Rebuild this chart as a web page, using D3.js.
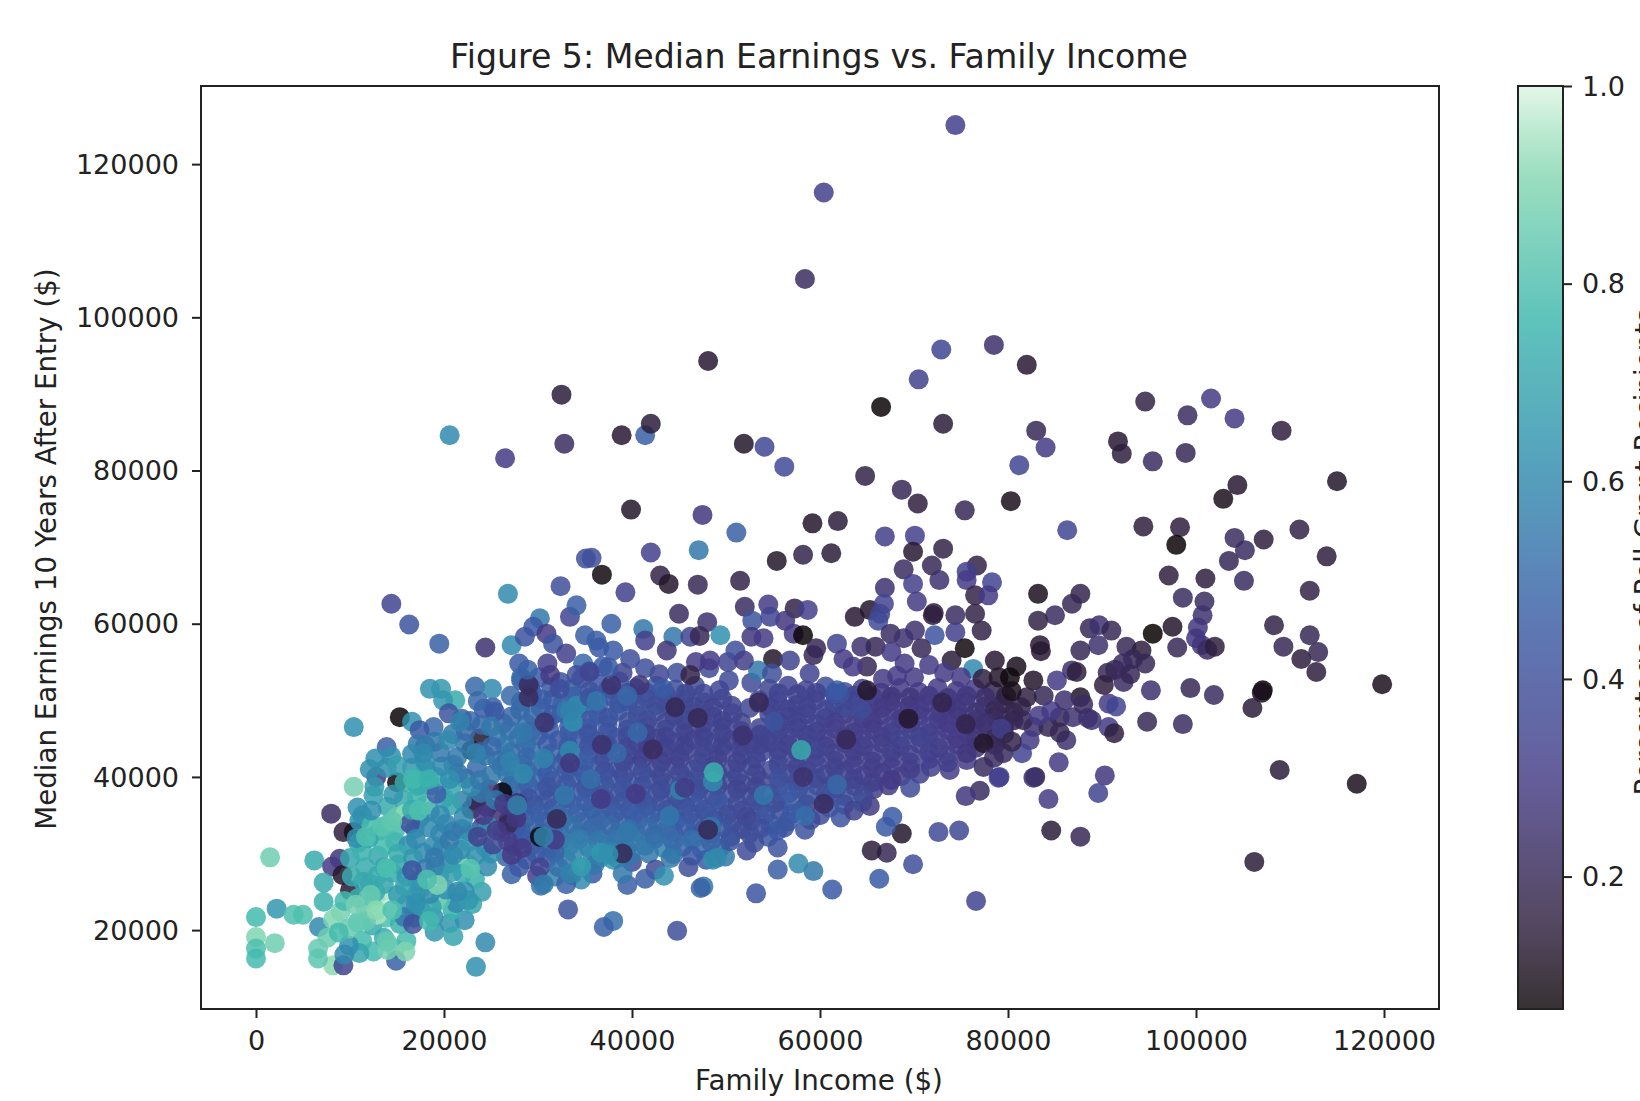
<!DOCTYPE html>
<html><head><meta charset="utf-8">
<script src="https://cdn.jsdelivr.net/npm/d3@7"></script>
<style>html,body{margin:0;padding:0;background:#fff;overflow:hidden}svg{display:block}text{font-family:"DejaVu Sans";fill:#222}</style>
</head><body><svg id="c" width="1640" height="1101"></svg>
<script>
// Each row: family income ($k), median earnings ($k), Pell share
const bodyWest = [
[28.2,52.6,.47],[30.1,53,.45],[32.4,52.4,.42],[34.6,52.8,.4],[36.5,52.1,.44],[38.6,52.5,.42],[40.4,51.6,.45],[42.6,51.9,.48],[44.6,51.4,.4],[46.7,51.9,.38],
[27.1,50.6,.5],[29.4,50.9,.48],[31.6,50.1,.45],[33.7,50.5,.55],[35.6,50.1,.42],[37.7,50.6,.44],[39.6,49.8,.42],[41.6,50.2,.4],[43.6,49.6,.42],[45.6,50.1,.38],[47.7,49.7,.37],[49.6,50.2,.36],
[25.2,49.1,.45],[28.1,48.7,.5],[30.3,49,.47],[32.5,48.4,.5],[34.4,48.6,.58],[36.4,48.2,.44],[38.5,48.6,.45],[40.6,48,.42],[42.5,48.5,.44],[44.5,48,.36],[46.6,48.3,.4],[48.6,47.9,.35],[50.7,48.3,.36],
[26.3,47,.5],[28.8,46.9,.52],[31,47.2,.5],[33.3,46.6,.45],[35.3,46.4,.44],[37.4,46.8,.46],[39.5,46.2,.42],[41.6,46.5,.36],[43.6,46.2,.38],[45.6,46.6,.38],[47.6,46,.36],[49.6,46.5,.35],[51.6,46,.38],
[25.6,45.2,.55],[27.9,45,.52],[30,45.4,.48],[32.2,44.8,.42],[34.4,45,.45],[36.3,44.7,.42],[38.4,45.1,.44],[40.5,44.6,.36],[42.6,45,.34],[44.6,44.5,.4],[46.6,44.9,.36],[48.6,44.4,.38],[50.6,44.8,.36],[52.7,44.3,.35],
[27.1,43.2,.5],[29.3,43.5,.52],[31.3,43,.5],[33.4,43.4,.45],[35.4,43,.44],[37.5,43.4,.4],[39.6,42.9,.36],[41.6,43.3,.35],[43.6,42.9,.36],[45.6,43.3,.34],[47.6,42.8,.38],[49.7,43.2,.36],[51.7,42.8,.36],[53.7,43.2,.38],
[26.1,41.4,.55],[28.4,41.7,.5],[30.5,41.3,.47],[32.5,41.7,.44],[34.5,41.2,.52],[36.6,41.6,.42],[38.6,41.1,.4],[40.6,41.5,.42],[42.6,41.1,.38],[44.6,41.5,.36],[46.6,41,.42],[48.6,41.4,.36],[50.7,41,.38],[52.7,41.4,.38],
[27.4,39.7,.52],[29.5,39.9,.5],[31.5,39.5,.42],[33.5,39.9,.44],[35.6,39.4,.42],[37.6,39.8,.44],[39.7,39.3,.46],[41.7,39.7,.42],[43.7,39.2,.42],[45.7,39.6,.44],[47.7,39.2,.42],[49.7,39.6,.4],[51.7,39.1,.38],[53.7,39.5,.36],
[26.4,38,.52],[28.5,37.9,.42],[30.6,38.2,.45],[32.6,37.7,.48],[34.7,38.1,.45],[36.7,37.6,.42],[38.7,38,.42],[40.7,37.6,.44],[42.7,38,.4],[44.7,37.5,.42],[46.7,37.9,.45],[48.7,37.5,.42],[50.7,37.9,.44],[52.7,37.4,.4],[54.7,37.8,.42],
[27.4,36.2,.5],[29.6,36.3,.44],[31.6,35.9,.5],[33.6,36.3,.47],[35.7,35.9,.5],[37.7,36.2,.44],[39.7,35.8,.46],[41.7,36.2,.42],[43.7,35.7,.44],[45.7,36.1,.42],[47.7,35.7,.38],[49.7,36.1,.46],[51.7,35.6,.38],[53.7,36,.44],[55.7,35.6,.4],
[26.9,34.4,.42],[28.7,34.6,.5],[30.7,34.2,.46],[32.7,34.6,.52],[34.7,34.1,.5],[36.7,34.5,.47],[38.7,34.1,.48],[40.7,34.5,.46],[42.7,34,.5],[44.7,34.4,.45],[46.7,34,.44],[48.7,34.4,.46],[50.7,34,.4],[52.7,34.3,.36],[54.7,33.9,.44],[56.6,34.2,.44],
[26.2,32.8,.36],[28.2,32.9,.45],[30.3,32.6,.52],[32.3,32.9,.5],[34.3,32.5,.52],[36.3,32.8,.5],[38.3,32.4,.5],[40.4,32.8,.52],[42.4,32.4,.5],[44.4,32.7,.48],[46.4,32.3,.52],[48.4,32.6,.42],[50.5,32.2,.4],[52.5,32.6,.38],[54.5,32.2,.44],[58.4,33.1,.42],
[27.4,31,.42],[29.4,31.1,.45],[31.4,30.8,.52],[33.4,31.1,.6],[35.4,30.8,.55],[37.4,31,.55],[39.4,30.7,.55],[41.4,31,.55],[43.4,30.7,.58],[45.4,30.9,.5],[47.4,30.6,.52],[49.4,30.8,.52],[52.2,30.4,.38],[55.5,30.8,.42],
[26.6,29.6,.5],[28.8,29.2,.42],[31,29.4,.44],[33,29.2,.55],[36.6,29.4,.65],[38,29.2,.66],[40,28.9,.38],[47.9,29.2,.45],[48.6,29.2,.62],[49.9,29.6,.55],
[27.2,27.3,.48],[29.9,27.1,.32],[31.8,27,.58],[33.6,27.2,.55],[35.8,27.4,.45],[34.6,26.6,.6],[30.3,25.8,.52],[33,26,.48],
[35.4,53.8,.45],[39,53.6,.35],[42.9,53.4,.36],[44.8,53.6,.4],[48.2,54.2,.38],[50.3,52.6,.38],[52.7,52.3,.38],[41.4,54.2,.4],[36.9,54.4,.45],[46.8,55,.3]
];
const bodyWestInfill = [
[29.2,51.7,.46],[31.4,51.7,.44],[33.6,51.5,.46],[35.5,51.2,.42],[37.5,51.5,.42],[39.6,51,.4],[41.5,51,.4],[43.6,50.8,.38],[45.7,50.9,.37],[47.6,50.9,.37],[49.3,51.3,.36],
[28.2,49.8,.5],[30.4,50.1,.46],[32.6,49.5,.48],[34.6,49.5,.52],[36.5,49.4,.44],[38.6,49.6,.42],[40.6,49.1,.4],[42.6,49.4,.38],[44.6,49,.36],[46.6,49.2,.36],[48.6,49,.34],[50.6,49.3,.35],[52.5,49,.36],
[27.2,47.9,.5],[29.5,48,.5],[31.6,48.1,.46],[33.5,47.6,.48],[35.5,47.4,.44],[37.5,47.7,.42],[39.6,47.2,.4],[41.6,47.4,.38],[43.6,47.1,.36],[45.6,47.4,.36],[47.6,47,.35],[49.6,47.3,.34],[51.6,47.1,.34],
[26.9,46.1,.52],[29.2,45.9,.5],[31.2,46.2,.46],[33.3,45.7,.46],[35.4,45.6,.42],[37.4,45.8,.42],[39.5,45.3,.38],[41.5,45.6,.34],[43.6,45.2,.34],[45.6,45.7,.34],[47.6,45.2,.34],[49.6,45.6,.34],[51.6,45.2,.34],[53.6,45.5,.34],
[26.5,44.1,.55],[28.7,44.2,.52],[31,44.3,.46],[33.2,44,.44],[35.4,44,.42],[37.4,44.2,.4],[39.5,43.9,.36],[41.6,44.2,.34],[43.6,43.9,.34],[45.6,44.1,.34],[47.6,43.8,.35],[49.6,44,.34],[51.6,43.8,.34],[53.6,44.2,.34],
[26.7,42.4,.55],[28.8,42.6,.5],[30.9,42.2,.48],[33,42.5,.44],[35,42.1,.46],[37,42.4,.4],[39.1,42,.36],[41.1,42.4,.34],[43.1,42,.34],[45.1,42.4,.34],[47.1,41.9,.36],[49.1,42.3,.34],[51.2,41.9,.34],[53.2,42.3,.35],
[26.7,40.5,.55],[28.9,40.7,.5],[31,40.4,.45],[33,40.8,.44],[35,40.3,.45],[37.1,40.7,.4],[39.1,40.2,.38],[41.1,40.6,.38],[43.1,40.1,.36],[45.1,40.5,.36],[47.1,40.1,.38],[49.1,40.5,.36],[51.2,40.1,.36],[53.2,40.4,.35],
[27,38.8,.52],[29,38.9,.48],[31,38.7,.42],[33,39,.44],[35.1,38.6,.42],[37.1,38.9,.42],[39.1,38.5,.42],[41.1,38.8,.4],[43.1,38.4,.38],[45.1,38.8,.4],[47.1,38.4,.38],[49.1,38.8,.36],[51.2,38.4,.35],[53.2,38.7,.35],
[27,37.1,.5],[29,37.2,.42],[31,37,.42],[33,37.2,.46],[35.1,36.8,.46],[37.1,37.1,.42],[39.1,36.8,.42],[41.1,37,.42],[43.1,36.7,.4],[45.1,37,.4],[47.1,36.6,.42],[49.1,37,.42],[51.2,36.6,.38],[53.2,36.9,.38],[55.2,36.6,.38],
[28.1,35.4,.46],[30.1,35.4,.46],[32.1,35.1,.5],[34.2,35.3,.48],[36.2,35,.48],[38.2,35.3,.46],[40.2,35,.46],[42.2,35.2,.46],[44.2,34.9,.44],[46.2,35.2,.42],[48.2,34.9,.42],[50.2,35.1,.38],[52.2,34.8,.36],[54.2,35.1,.42],
[27.7,33.6,.42],[29.7,33.7,.48],[31.7,33.4,.5],[33.7,33.7,.52],[35.7,33.3,.5],[37.7,33.6,.5],[39.7,33.2,.52],[41.7,33.5,.5],[43.7,33.2,.5],[45.7,33.5,.46],[47.7,33.2,.42],[49.7,33.4,.42],[51.7,33.2,.38],[53.7,33.3,.4],[55.5,33,.44],
[28.4,31.9,.45],[30.4,31.9,.5],[32.4,31.7,.55],[34.4,31.9,.56],[36.4,31.7,.55],[38.4,31.9,.54],[40.4,31.6,.55],[42.4,31.9,.52],[44.4,31.6,.5],[46.4,31.8,.52],[48.4,31.5,.48],[50.4,31.6,.42],[53,31.4,.4],[29.8,30,.45],[31.8,30.1,.48],[33.8,30.2,.58],[35.8,29.9,.6],[37.8,30.2,.58],[39.8,29.8,.55],[41.8,30,.55],[44.4,29.9,.52],[46.4,29.7,.45],[28,28.2,.44],[30.2,28.2,.35],[32.2,28.2,.52],[34.5,28.2,.6],[36,28.5,.55]
];
const bodyEast = [
[54.6,51.5,.36],[56.6,51.9,.35],[58.5,51.3,.34],[60.6,51.8,.4],[62.6,51.1,.4],[64.5,51.5,.34],[66.5,51,.28],[68.5,51.6,.3],[70.5,51.1,.32],[72.5,51.6,.3],[74.5,51.2,.3],[76.5,51.5,.3],[78.4,51.2,.2],
[53.5,50,.34],[55.5,49.9,.36],[57.5,49.4,.36],[59.5,50,.36],[61.5,49.5,.42],[63.5,49.9,.36],[65.5,49.4,.34],[67.5,49.8,.3],[69.5,49.3,.3],[71.5,49.7,.32],[73.5,49.2,.3],[75.5,49.7,.3],[77.5,49.2,.28],[79.5,49.6,.2],[81.4,49.1,.18],
[54.6,48.2,.36],[56.6,47.9,.33],[58.6,48.2,.36],[60.6,47.7,.34],[62.6,48.2,.35],[64.6,47.6,.3],[66.6,48.1,.3],[68.6,47.6,.32],[70.6,48,.35],[72.6,47.5,.32],[74.6,47.9,.3],[76.6,47.5,.28],[78.6,47.9,.24],[80.6,47.4,.2],
[53.6,46.4,.35],[55.6,46.1,.34],[57.6,46.4,.34],[59.6,45.9,.34],[61.6,46.3,.33],[63.6,45.8,.32],[65.6,46.2,.3],[67.6,45.8,.34],[69.6,46.2,.36],[71.6,45.7,.33],[73.6,46.1,.3],[75.6,45.7,.3],[77.6,46.1,.27],[79.6,45.6,.2],
[54.6,44.5,.36],[56.6,44.2,.34],[58.6,44.5,.36],[60.6,44,.35],[62.6,44.4,.34],[64.6,44,.34],[66.6,44.4,.3],[68.6,44,.34],[70.6,44.3,.36],[72.6,43.8,.33],[74.6,44.2,.3],[76.6,43.8,.25],[78.6,44.2,.18],
[55.6,42.6,.38],[57.6,42.3,.36],[59.6,42.6,.34],[61.6,42.1,.35],[63.6,42.5,.33],[65.6,42,.3],[67.6,42.4,.32],[69.6,41.9,.33],[71.6,42.3,.35],[73.6,41.9,.33],[75.6,42.2,.3],
[54.8,40.9,.38],[56.6,40.4,.36],[58.6,40.8,.38],[60.6,40.3,.36],[62.6,40.7,.35],[64.6,40.2,.34],[66.6,40.5,.3],[68.6,40.1,.3],[70.6,40.4,.33],
[55.7,38.9,.4],[57.7,38.5,.42],[59.7,38.9,.38],[61.7,38.5,.36],[63.7,38.8,.34],[65.7,38.4,.32],[67.3,38.9,.3],
[56.6,36.8,.47],[58.6,36.4,.28],[60.6,36.9,.45],[62.6,36.4,.42],[64.5,36.7,.6],[65.3,36.2,.3],[58,35.6,.46],[60,35,.38],[62.2,34.7,.42],[56.2,33.4,.42]
];
const bodyEastInfill = [
[55.6,50.9,.35],[57.6,50.8,.34],[59.6,51,.34],[61.6,50.7,.38],[63.6,50.6,.35],[65.6,50.5,.32],[67.6,50.5,.28],[69.6,50.4,.28],[71.6,50.6,.3],[73.6,50.3,.28],[75.6,50.6,.28],[77.6,50.4,.24],[79.8,50.6,.16],
[54.7,49.1,.34],[56.6,48.8,.34],[58.6,49,.34],[60.6,48.7,.35],[62.6,49,.36],[64.6,48.7,.33],[66.6,49,.3],[68.6,48.5,.3],[70.6,48.8,.3],[72.6,48.4,.3],[74.6,48.7,.28],[76.6,48.4,.26],[78.6,48.7,.2],[80.6,48.4,.18],
[55.6,47.1,.34],[57.6,47.1,.34],[59.6,46.9,.34],[61.6,47.1,.32],[63.6,46.8,.32],[65.6,47,.3],[67.6,46.7,.32],[69.6,47,.32],[71.6,46.6,.32],[73.6,47,.3],[75.6,46.7,.28],[77.6,47,.25],[79.6,46.7,.2],
[54.6,45.4,.35],[56.6,45.2,.34],[58.6,45.4,.34],[60.6,45,.33],[62.6,45.2,.32],[64.6,44.9,.32],[66.6,45.2,.32],[68.6,44.9,.34],[70.6,45.2,.34],[72.6,44.8,.32],[74.6,45,.3],[76.6,44.9,.27],[78.6,45,.2],
[55.6,43.5,.34],[57.6,43.3,.34],[59.6,43.6,.35],[61.6,43.1,.33],[63.6,43.4,.32],[65.6,43,.32],[67.6,43.3,.33],[69.6,42.9,.33],[71.6,43.2,.33],[73.6,42.8,.32],[75.6,43.1,.28],
[55.6,41.6,.36],[57.6,41.3,.35],[59.6,41.7,.35],[61.6,41.2,.34],[63.6,41.5,.33],[65.6,41.1,.32],[67.6,41.3,.32],[69.6,41,.32],[71.8,41.3,.33],[73.8,40.9,.32],
[55.6,39.8,.4],[57.6,39.5,.38],[59.6,39.8,.37],[61.6,39.4,.36],[63.6,39.7,.34],[65.6,39.3,.33],[67.6,39.6,.3],[56.6,37.8,.44],[58.6,37.5,.42],[60.6,37.7,.4],[62.6,37.5,.38],[64.6,37.6,.36],[57,35.2,.44],[59,34.4,.38],[61,36,.42],[63.6,35.6,.34]
];
const lowIncome = [
[0,21.7,.78],[0,19.1,.9],[0,17.6,.8],[0,16.3,.78],[2,18.3,.87],[2.2,22.8,.65],[1.5,29.5,.87],[4,22,.8],[5,22,.8],[6.2,29.1,.72],
[8.2,15.4,.92],[9.3,15.4,.35],[8,35.2,.22],[9.3,32.8,.15],[10.4,32.8,.1],[8.9,29.3,.27],[8.1,28.3,.3],[9.2,27.2,.12],[10,25.2,.13],[10.4,46.5,.62],
[15.3,47.8,.07],[16.6,47.2,.62],[13.9,43.9,.47],[12.7,42.4,.62],[12.8,40,.3],[15,39.3,.08],[18.5,51.5,.63],[19.7,51.5,.65],[21.2,50,.72],[19.9,50,.65],[20.5,48.3,.42],[18.9,46.5,.5],[17.4,46.1,.45],[23.3,51.8,.5],[25.1,51.5,.6],[25.4,48.5,.45],[22.9,43.5,.1],[23.8,45,.12],[26.2,38,.07],[23.4,36.9,.2],[24.6,36,.22],[25.8,35.2,.25],[22.9,35.8,.2],[24.8,38.4,.25],[27.8,36.6,.25],[26.8,33.8,.2],[30.2,32.2,.08],[31.8,31.8,.3],[24,33.4,.32],
[7.2,26.2,.72],[7.2,23.7,.75],[6.6,17.6,.85],[6.6,16.3,.83],[6.7,20.4,.6],
[11.3,18.6,.78],[12.5,17.2,.78],[13.6,19,.72],[14.8,17.6,.85],[16,18.6,.78],[12.4,20.6,.72],[13.8,21.6,.8],[15.3,20.8,.75],[16.8,21.6,.62],[14.9,16,.48],[11,17,.7],[9.9,18,.62],[9.4,16.8,.6],[10.8,21,.8],[9,22.4,.88],[8.2,21.4,.9],[9.9,20.2,.85],[7.6,19,.86],[8.8,19.7,.78],[15.9,17.2,.9],[14,17.4,.88],
[11.6,23,.85],[12.8,23.6,.82],[14.2,24.4,.95],[12.9,22,.95],[14.2,22.8,.98],[16,23.4,.66],[17.5,22.8,.62],[18.9,21.7,.63],[15.8,21.7,.55],[16.7,20.8,.4],[19,19.8,.65],[20.6,20.9,.65],[22.2,21.3,.62],[21,19.2,.7],[20.9,22.6,.75],[21.3,23.5,.6],[19.6,23.9,.82],[18.7,23,.7],[23,23.4,.7],[24,25,.68],[23.3,26.7,.75],[24.6,28.3,.6],[22.6,28.6,.85],
[10.9,24.2,.74],[12.1,26.1,.72],[9.4,23.8,.78],[13.6,26,.7],[15.1,24.6,.66],[17,24.5,.62],[18.5,24.7,.6],[20.2,25.3,.62],[22.2,25.1,.62],[22.6,23.9,.65],[17.2,26.4,.6],[19.1,28.3,.58],[20.5,28.7,.58],[22,27.4,.72],[15.1,28.6,.7],[13.6,28.2,.72],[11.6,28.2,.72],[10,29.4,.7],[10.9,31.4,.72],[14.8,31.5,.72],[16.2,31.1,.62],[17.8,30.1,.6],[19.8,30.6,.58],[21.8,30.5,.6],[23.4,29.8,.62],[25,30,.62],[13.2,33,.74],[14.8,33,.78],[16.9,33.2,.62],[11.3,35,.62],[12.6,38.7,.66],[14,36.1,.72],[15.7,37,.72],[15.8,39.3,.72],[17.2,38.8,.7],[18.5,38.9,.72],[20,37.2,.68],[21.9,36.9,.58],[18.5,35.5,.6],[17.4,34.6,.6],[19.6,32.6,.58],[21,32.9,.58],[22.8,32.8,.58],[18.1,41,.65],[16.6,41.2,.65],[13.9,41.2,.62],[14.4,42.7,.62],[12.1,41,.62],[17.2,44.3,.55],[19,44.6,.55],[20.9,45.6,.55],[22.8,47.3,.5],[24.2,48.9,.45],[23.6,49.9,.5],[22.2,44.4,.55],[21,41.6,.58],[22.3,39.8,.55],[23.9,37.9,.55],[25.5,37,.55],[25.7,42.1,.52],[23.9,43.3,.45],
[12.7,25,.72],[11.4,26.3,.7],[10.2,27,.72],[12.9,27.1,.72],[14.5,27.5,.72],[16,27,.65],[13,29.7,.7],[11.3,30.3,.75],[13.6,31,.78],[15.1,30,.72],[16.7,29.4,.65],[18,28,.55],[19.5,27.2,.6],[20.9,27.6,.68],[15.8,25.7,.68],[17.5,25.4,.65],[19.3,25.9,.9],[16.6,27.8,.42],[18.2,26.6,.8],[21.4,25,.6],[17,23.5,.62],
[10.8,36,.62],[11,34.3,.62],[10.7,32,.62],[12.3,33.7,.78],[13.9,33.7,.8],[15,34.8,.85],[15.9,35.2,.92],[16.4,33.9,.4],[18,36.3,.82],[17.1,37.4,.75],[20.8,38.7,.7],[20.8,36.3,.7],[19.2,37.8,.47],[10.4,38.7,.88],[12.5,37.6,.68],[12.3,35.6,.62],[15,41.5,.68],[16.6,43,.6],[17.1,40,.75],[19.2,40,.72],[14.6,37.7,.65],[16.6,35.7,.72],[18.4,33.4,.6],[20.2,33.9,.58],[21.9,33.2,.55],[19.6,35,.6],[22.1,34.8,.6],[17,31.9,.6],[18.9,31,.6],[20.6,31.7,.55],[22.6,31.5,.65],[24.4,30.8,.62],[19,29.5,.55],[21,29.8,.6],[12,32,.7],
[19.8,41.4,.6],[21.5,40.5,.55],[21.4,42.6,.55],[19.6,43.2,.55],[18,42,.62],[20.4,44.8,.6],[22.3,46,.5],[21.9,47.6,.48],[24,46.8,.5],[18,44.1,.55],[22.9,38.7,.6],[23.5,41.2,.5],[24.4,42.8,.55],[25,40.2,.55],[23.8,39.6,.55],[25.1,44,.5],[27,42,.58],[24.7,33.6,.62],
[24.2,35,.3],[26.4,36.5,.3],[27.7,34.6,.28],[25.6,33,.3],[23.6,32.2,.34],[26.8,31.6,.3],[28.3,30.7,.3],[25.2,31.2,.36],[27.2,29.8,.3]
];
const midScatter = [
[27.2,57.2,.6],[30.2,60.7,.55],[29.5,59.6,.45],[28.6,58.3,.42],[28,54.8,.45],[28.2,53,.5],[29,50.4,.22],[29,52,.22],[30.9,58.7,.3],[31.6,57.4,.42],[31,54.8,.33],[31.3,53.3,.3],[33,56.1,.33],[33.4,60.9,.35],[34.1,62.4,.47],[35,58.5,.47],[36.2,57.8,.47],[38,56.5,.45],[39.8,55.4,.4],[37.8,60,.47],[41.2,59.3,.55],[41.4,57.8,.33],[44.4,58.3,.55],[46.2,58.3,.35],[43.7,56.5,.27],[37.8,52,.25],[40.8,52,.27],[34.8,54.8,.5],[34.1,53.3,.4],[35.5,53.7,.35],[37.5,54.3,.45],[34.1,49.3,.6],[33,48.7,.55],[32.3,51.5,.4],[35.5,50.4,.42],[43.3,51.5,.45],[46.2,53.3,.17],
[43,66.3,.17],[39.3,64.1,.33],[47,65.1,.2],[43.9,65.2,.12],
[52,62.2,.22],[54.5,62.5,.3],[57.3,62,.17],[58.7,61.8,.33],[56.3,60.4,.28],[52.8,60.4,.42],[54.7,60.9,.35],[45,61.3,.22],[48,60.2,.25],
[57.2,58.7,.3],[58.2,58.5,.07],[47.2,58.4,.2],[49.4,58.5,.62],[52.7,58.3,.28],[54,58.1,.3],[59.6,56.8,.2],[61.8,57.4,.35],[55,55.4,.12],[56.8,55.2,.35],[58.9,53.5,.35],[59.3,55.9,.2],[53.4,53.9,.55],[54.9,53.5,.4],[48.3,55.2,.3],[50.2,55,.35],[51,56.5,.4],[51.9,55.2,.32],
[63.7,60.9,.13],[65.3,61.8,.12],[66.4,61.3,.35],[66.2,60.4,.38],[67.5,58.7,.22],[68.9,58.1,.25],[70.1,59.1,.25],[72,61.1,.15],[74.4,61.1,.22],[72.2,58.5,.42],[74.4,58.9,.33],[76.5,61.3,.17],[77.2,59.1,.17],[70.8,56.8,.2],[75.4,56.8,.08],[74,55.2,.14],[76.3,54.1,.6],[78.6,55.2,.13],[80.9,54.4,.1],[62.5,55.4,.3],[64.4,57,.25],[65.9,57,.2],[65,54.4,.2],[63.5,54.4,.3],[67.6,56.3,.3],[69,54.8,.3],[62.1,50.9,.42],[61.6,50.9,.42],[65,51.3,.12],[64.4,48.7,.38],[71.6,54.6,.3],[73.2,53.6,.3],[75,53,.3],[77.3,52.8,.16],[79,53,.12],[68.2,53.2,.3],[70,53,.3],[66.7,52.8,.3],
[82.7,52.6,.12],[80.2,53,.08],[87.7,50.4,.12],[85.2,52.6,.3],[86.8,53.9,.25],[85.5,47.8,.2],[86.9,47.8,.25],[88.9,47.4,.25],[82.7,46.5,.25],[84.3,46.5,.2],[86.2,44.8,.25],[82.3,44.8,.3],[81.5,43.1,.35],[79.5,43.1,.22],[77.4,44.4,.12],[82.9,40,.14],[79.1,40,.35],[77.4,41.3,.22],[83.8,50.6,.2],[82,50.4,.16],[80.4,51.2,.1],[84.6,48.6,.3],[81.6,47.4,.2],[83.3,48,.3],[79.3,46.3,.32],[80.4,44.6,.18],[78.5,42.5,.22]
];
const upperTail = [
[74.4,125.1,.33],[60.4,116.3,.33],[58.4,105,.22],[72.9,95.8,.36],[78.5,96.4,.24],[82,93.8,.13],[70.5,91.9,.34],[48.1,94.3,.13],[32.5,89.9,.14],[66.5,88.3,.07],[73.1,86.1,.14],[41.4,84.6,.47],[42,86.1,.14],[38.9,84.6,.13],[20.6,84.6,.6],[26.5,81.6,.3],[32.8,83.5,.22],[51.9,83.5,.12],[54.1,83.1,.37],[56.2,80.5,.38],[64.8,79.3,.17],[68.7,77.5,.2],[70.4,75.7,.15],[75.4,74.8,.2],[80.3,76,.1],[81.2,80.7,.36],[83,85.2,.2],[84,83,.3],[91.7,83.8,.13],[92.1,82.2,.15],[94.6,89,.17],[95.4,81.2,.22],[98.9,82.3,.2],[99.1,87.2,.22],[101.6,89.4,.3],[104.1,86.8,.3],[109.1,85.2,.15],[115,78.6,.12],[102.9,76.3,.1],[104.4,78.1,.13],
[94.4,72.7,.15],[98.3,72.6,.15],[97.9,70.3,.07],[104.1,71.2,.22],[107.2,71,.15],[105.2,69.6,.22],[103.5,68.2,.2],[111,72.3,.17],[113.9,68.8,.15],[97.1,66.3,.15],[101,65.9,.15],[105.1,65.6,.22],[112.1,64.3,.17],[98.6,63.4,.22],[100.9,62.9,.22],[100.7,61.1,.25],[100.2,59.5,.28],[100,58.1,.28],[100.6,57.2,.28],[101.2,56.6,.22],[97.5,59.6,.12],[95.4,58.7,.06],[108.3,59.8,.17],[112.1,58.5,.2],[109.3,57,.2],[113,56.3,.2],[111.2,55.4,.15],[112.8,53.7,.15],[119.8,52.1,.1],[102,57,.15],[98,56.9,.2],[99.4,51.6,.2],[101.9,50.7,.22],[107.1,51.3,.05],[107,51,.1],[106,49,.14],[94.8,47.2,.2],[98.6,46.9,.22],[108.9,40.9,.14],[117.1,39.1,.1],[106.2,28.9,.14],
[87.7,32.2,.2],[84.6,33,.14],[84.3,37.1,.3],[90.3,40.2,.28],[89.6,37.9,.35],[82.7,39.9,.25],[85.4,41.9,.3],[79,39.9,.33],[77,38.2,.22],[75.5,37.5,.28],[76.6,23.8,.35],[74.8,33,.37],[72.6,32.8,.38],[69.9,28.6,.4],[68.7,32.6,.12],[67.1,30.1,.2],[65.5,30.4,.14],[66.3,26.7,.45],[67.7,34.8,.45],[67,33.5,.45],[69.6,38.6,.38],[61.3,25.3,.45],[59.3,27.7,.55],[57.7,28.7,.6],[55.5,27.9,.47],[53.2,24.8,.43],[44.8,19.9,.4],[38,21.2,.52],[37,20.4,.48],[33.2,22.7,.42],[24.4,18.4,.6],[23.4,15.2,.62],[47.6,25.7,.55],[47.3,25.5,.48],[46,28.2,.4],[44.1,29.4,.55],[42.5,27.9,.38],[41.4,26.7,.47],[39.5,25.9,.47],[43.4,27.1,.62],
[86.3,72.2,.36],[51.1,71.9,.47],[47.1,69.6,.55],[47.5,74.2,.28],[39.9,74.9,.12],[42,69.3,.33],[59.2,73.1,.12],[61.9,73.4,.14],[58.2,69,.18],[55.4,68.2,.12],[61.2,69.2,.14],[51.5,65.6,.17],[36.8,66.4,.08],[35.1,68.5,.4],[35.7,68.6,.4],[32.4,64.9,.4],[14.4,62.6,.35],[16.3,59.9,.42],[19.5,57.4,.47],[24.4,56.9,.25],[26.8,63.9,.6],
[66.9,71.4,.32],[70.1,71.5,.33],[69.9,69.4,.13],[73.1,69.8,.17],[71.9,67.6,.2],[68.9,67.1,.22],[69.9,65.2,.33],[72.7,65.7,.25],[66.9,64.7,.25],[76.7,67.6,.17],[75.6,66.8,.33],[75.6,65.7,.3],[78.3,65.4,.35],[76.5,63.7,.17],[77.9,63.7,.3],[83.2,63.9,.1],[87.7,63.9,.18],[86.8,62.6,.2],[85,61.1,.22],[83.2,60.4,.17],[83.4,57.2,.13],[83.5,56.4,.13],[88.7,59.4,.2],
[70.3,62.9,.3],[72.1,61.4,.15],[66.8,62.6,.35],[89.7,59.8,.25],[91,59.1,.2],[89.6,57.2,.25],[87.7,56.5,.2],[92.6,57,.2],[94.2,56.5,.15],[91.4,54,.2],[93.3,55.4,.2],[92.3,52.4,.22],[95.2,51.3,.25],[90.7,49.6,.3],[90.6,53.6,.2],[87.3,53.7,.15],[91.5,49.2,.35],[90.7,46.5,.3],[91.3,45.7,.15],[88.5,47.7,.25],[85.5,45.8,.2],[92.2,54.8,.22],[94.6,54.8,.2],[93,53.4,.2],[90.2,52,.15],[86,50,.25],[88,49.5,.22]
];
const topSpeckles = [
[58,43.5,.72],[48.7,40.6,.75],[36.5,56.9,.45],[40.4,37.8,.3],[36.8,44.2,.25],[42.2,43.6,.22],[44.6,49.1,.2],[47,47.7,.2],[51.8,45.4,.25],[53.5,49.7,.2],[60.4,36.5,.22],[48.1,33.1,.2],[58.2,40,.25],[39,30,.2],[45.6,38.6,.3],[62.8,44.9,.2],[73,49.7,.18],[69.4,47.6,.12],[75.5,46.9,.18],[33.4,41.8,.28],[30.7,47.1,.25],[32,34.5,.2],[36.7,37.1,.3],[37.5,29.9,.62],[34.6,28.3,.68],[39,27.4,.55]
];
const tealPatches = [
[28.4,40.4,.6],[30.6,42.4,.58],[33.4,43.4,.6],[33.7,47.2,.62],[28.4,45.8,.55],[25,46.5,.55],[23.4,43.1,.58],[21.7,47.2,.58],[27.8,36.3,.58],[32.8,37.6,.55],[35.6,39.7,.52],[38.4,43.1,.5],[45.1,38.3,.58],[48.6,39.4,.6],[38.4,29.4,.62],[36.7,30.1,.65],[39.5,32.8,.55],[44,34.9,.55],[48.4,33.5,.55],[49,29.4,.6],[54,37.6,.55],[58.4,34.9,.52],[61.8,39,.5],[55.1,47.2,.42],[61.8,51.3,.45],[30.6,32.2,.58],[33.4,27.4,.58],[30.6,26,.55],[40.6,45.8,.5],[36.2,49.9,.55],[33.4,48.6,.58],[39.5,50.6,.5],[28.9,54,.48],[20.6,39.7,.62],[17.8,43.1,.6],[17.3,39,.72]
];
const mintPatches = [
[13.4,33.5,.82],[14.5,34.2,.84],[17.3,35.6,.8],[16.7,39.7,.78],[18.4,39.7,.75],[11.7,32.2,.8],[13.9,28.1,.8],[12.2,24.6,.85],[10.6,23.3,.88],[11.7,21.2,.85],[12.8,22.6,.92],[22.8,28,.82],[18.4,21.2,.78],[14.5,22.6,.8],[13.9,18.5,.85]
];
const xTickValues = [0,20000,40000,60000,80000,100000,120000];
const yTickValues = [20000,40000,60000,80000,100000,120000];
const colorbarTicks = [.2,.4,.6,.8,1];
const makoStops = [0,.083,.25,.417,.583,.75,.917,1];
const makoColors = ["#0b0405","#2e1e3b","#443a85","#3a5aa5","#2f8cae","#3cb7ad","#8bdab2","#def5e5"];

const points = [...bodyWest,...bodyEast,...bodyWestInfill,...bodyEastInfill,...lowIncome,...midScatter,...upperTail,...tealPatches,...mintPatches,...topSpeckles];
const svg = d3.select("#c");
const L=201,R=1439,T=86,B=1009;
const x = d3.scaleLinear().domain([-5850,125850]).range([L,R]);
const y = d3.scaleLinear().domain([9700,130200]).range([B,T]);
const cv = d3.scaleLinear().domain([.066,1]).range([0,1]);
const mako = d3.scaleLinear().domain(makoStops).range(makoColors).interpolate(d3.interpolateRgb);
const color = v=>mako(cv(v));

svg.append("g").selectAll("circle").data(points).join("circle")
  .attr("cx",d=>x(d[0]*1000)).attr("cy",d=>y(d[1]*1000)).attr("r",10)
  .attr("fill",d=>color(d[2])).attr("fill-opacity",.85);

svg.append("rect").attr("x",L).attr("y",T).attr("width",R-L).attr("height",B-T)
  .attr("fill","none").attr("stroke","#222").attr("stroke-width",2);

function style(g){g.select(".domain").remove();
  g.selectAll(".tick line").attr("stroke","#222").attr("stroke-width",2);
  g.selectAll("text").style("font-size","27px");}
svg.append("g").attr("transform",`translate(0,${B})`)
  .call(d3.axisBottom(x).tickValues(xTickValues).tickSize(9).tickPadding(13).tickFormat(d3.format("d"))).call(style);
svg.append("g").attr("transform",`translate(${L},0)`)
  .call(d3.axisLeft(y).tickValues(yTickValues).tickSize(9).tickPadding(13).tickFormat(d3.format("d"))).call(style)
  .selectAll("text").attr("dy",".34em");

const grad = svg.append("defs").append("linearGradient").attr("id","g").attr("x1",0).attr("x2",0).attr("y1",1).attr("y2",0);
d3.range(0,1.0001,.05).forEach(t=>grad.append("stop").attr("offset",t).attr("stop-color",mako(t)).attr("stop-opacity",.82));
const cbL=1518,cbR=1563;
const cy = d3.scaleLinear().domain([.066,1]).range([B,T]);
svg.append("rect").attr("x",cbL).attr("y",T).attr("width",cbR-cbL).attr("height",B-T).attr("fill","url(#g)").attr("stroke","#222").attr("stroke-width",2);
svg.append("g").attr("transform",`translate(${cbR},0)`)
  .call(d3.axisRight(cy).tickValues(colorbarTicks).tickSize(9).tickPadding(10).tickFormat(d3.format(".1f"))).call(style)
  .selectAll("text").attr("dy",".34em");

svg.append("text").attr("x",819).attr("y",68).attr("text-anchor","middle").style("font-size","33.2px").text("Figure 5: Median Earnings vs. Family Income");
svg.append("text").attr("x",819).attr("y",1090).attr("text-anchor","middle").style("font-size","27.7px").text("Family Income ($)");
svg.append("text").attr("transform","translate(56,549) rotate(-90)").attr("text-anchor","middle").style("font-size","27.7px").text("Median Earnings 10 Years After Entry ($)");
svg.append("text").attr("transform","translate(1655,552) rotate(-90)").attr("text-anchor","middle").style("font-size","27.7px").text("Percentage of Pell Grant Recipients");
</script></body></html>
